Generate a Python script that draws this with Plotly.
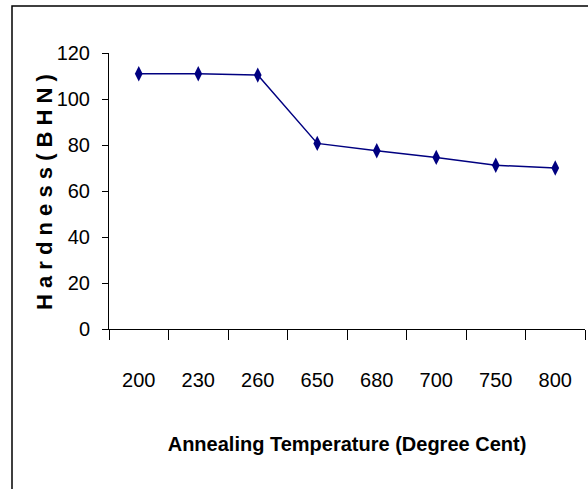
import plotly.graph_objects as go

temperatures = ["200", "230", "260", "650", "680", "700", "750", "800"]
hardness = [111, 111, 110.4, 80.7, 77.5, 74.6, 71.2, 70]
y_ticks = [0, 20, 40, 60, 80, 100, 120]

sans = "Liberation Sans, Arial, sans-serif"

fig = go.Figure()
fig.add_trace(go.Scatter(
    x=temperatures, y=hardness, mode="lines+markers",
    line=dict(color="#000080", width=1.5),
    marker=dict(symbol="diamond-tall", size=11, color="#000080"),
    showlegend=False,
))

L, R, T, B = 109, 3, 53, 160
W, H = 588, 489
pw = W - L - R
ph = H - T - B

fig.update_layout(
    width=W, height=H,
    margin=dict(l=L, r=R, t=T, b=B),
    paper_bgcolor="white", plot_bgcolor="white",
    font=dict(family=sans, size=20, color="black"),
    xaxis=dict(
        type="category", range=[-0.5, 7.5],
        tickson="boundaries", ticks="outside", ticklen=10, tickcolor="black",
        showline=True, linecolor="black", linewidth=1,
        showgrid=False, zeroline=False,
        ticklabelstandoff=33,
        title=dict(text="<b>Annealing Temperature (Degree Cent)</b>",
                   font=dict(family=sans, size=20), standoff=46),
    ),
    yaxis=dict(
        range=[0, 120], tickvals=y_ticks,
        ticks="outside", ticklen=6, tickcolor="black",
        showline=True, linecolor="black", linewidth=1,
        showgrid=False, zeroline=False,
        ticklabelstandoff=8,
    ),
)

fig.add_annotation(
    text="<b>H a r d n e s s ( B H N )</b>",
    xref="paper", yref="paper",
    x=(44 - L) / pw, y=((H - B) - 192) / ph,
    xanchor="center", yanchor="middle",
    textangle=-90, showarrow=False,
    font=dict(family=sans, size=22, color="black"),
)

fig.add_shape(
    type="rect", xref="paper", yref="paper",
    x0=(12 - L) / pw, x1=(600 - L) / pw,
    y0=-(500 - (H - B)) / ph, y1=((H - B) - 6) / ph,
    line=dict(color="black", width=1.5), fillcolor="rgba(0,0,0,0)",
    layer="below",
)

fig.write_html("out.html")
